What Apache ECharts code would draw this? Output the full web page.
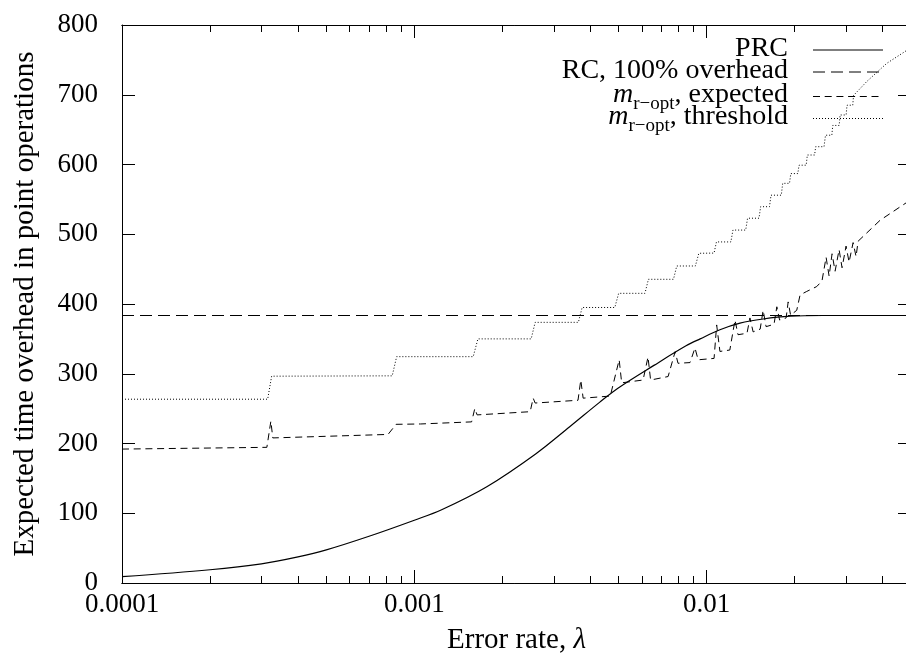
<!DOCTYPE html>
<html><head><meta charset="utf-8">
<script src="https://cdn.jsdelivr.net/npm/echarts@6/dist/echarts.min.js"></script>
<style>html,body{margin:0;padding:0;background:#fff;overflow:hidden}#c{width:906px;height:656px}</style>
</head><body><div id="c"></div>
<script>
// ---- axis definitions ----
const xMin = 0.0001, xMax = 0.05;
const xTickValues = [0.0001, 0.001, 0.01];
const xTickLabels = ['0.0001', '0.001', '0.01'];
const xMinorTickValues = [0.0002,0.0003,0.0004,0.0005,0.0006,0.0007,0.0008,0.0009,
  0.002,0.003,0.004,0.005,0.006,0.007,0.008,0.009,0.02,0.03,0.04];
const yMin = 0, yMax = 800, yInterval = 100;
const xTitle = 'Error rate, {i|λ}';
const yTitle = 'Expected time overhead in point operations';

// ---- series data (λ, value) ----
const prcLambda = [0.0001,0.0002,0.0003,0.0004,0.0005,0.0007,0.001,0.00124,0.00177,0.0026,0.0034,0.0043,0.005,0.0066,0.0085,0.0095,0.0111,0.013,0.0156,0.0193,0.025,0.05];
const prcValues = [9,19,27.5,37.5,47.5,67,90,105,138,185,224,259,280,312,340,350,363,372.5,378.5,382.5,383.5,383.5];

const rcLambda = [0.0001, 0.05];
const rcValues = [383.5, 383.5];

const expLambda = [0.0001,0.000313,0.000323,0.000328,0.000813,0.000866,0.00105,0.00157,0.00161,0.00164,
  0.00249,0.00255,0.00259,0.00363,0.00371,0.00378,0.00468,0.00502,0.00512,0.00606,
  0.0063,0.00643,0.00738,0.0078,0.00798,0.00877,0.00912,0.00935,0.0106,0.01082,
  0.0111,0.0120,0.0125,0.0128,0.01374,0.01406,0.01442,0.01524,0.0156,0.01597,
  0.0170,0.01738,0.01776,0.0187,0.0190,0.01937,0.02033,0.02087,0.02199,0.02379,
  0.0248,0.02562,0.02623,0.02685,0.0275,0.02838,0.02905,0.02998,0.0307,0.03169,
  0.03244,0.03296,0.03348,0.03918,0.04811,0.05];
const expValues = [192,194.5,232,208,213,227.5,228,231,250,241,
  245.6,265,258,262,291,265,268,320,287,291,
  324,291,296,331.6,315,316,337,320,322,370,
  332,334,377,356,358,380,360,364,391,367.5,
  371,396,377,380,403,384,391,413,418,425,
  433,467,440,472,447,478,452,483,460,488,
  468,490,489,520,545,551];

const thrLambda = [0.0001,0.000315,0.000325,0.00084,0.00087,0.00159,0.00165,0.00251,0.00259,0.00364,
  0.00375,0.00485,0.005,0.00615,0.00632,0.0077,0.0079,0.00915,0.0094,0.0106,
  0.0108,0.0121,0.0123,0.0136,0.0138,0.0151,0.0153,0.0164,0.0166,0.018,
  0.0182,0.0192,0.0194,0.0205,0.0207,0.0219,0.0221,0.0234,0.0236,0.0252,
  0.0255,0.0268,0.027,0.0284,0.0286,0.03,0.0302,0.0316,0.0318,0.0353,
  0.0413,0.0481,0.05];
const thrValues = [263.5,263.5,296.5,297,324.5,324.5,350,350,373.7,373.7,
  395,395,415.3,415.3,435.4,435.4,454.5,454.5,472.7,473,
  489,489,506,506,523,523,539.5,539.5,556,556,
  573,573,587,587,599,599,613.6,613.6,625.5,625.5,
  642,642,656,656,671,671,685,685,699,719,
  745,763,770];

const seriesNames = ['PRC', 'RC, 100% overhead', 'm_{r−opt}, expected', 'm_{r−opt}, threshold'];
const legendRich = ['PRC', 'RC, 100% overhead', '{mi|m}{sub|r−opt}{n|, expected}', '{mi|m}{sub|r−opt}{n|, threshold}'];

// ---- build ----
const L = Math.log10;
const FONT = 'Liberation Serif';
const FS_TICK = 27, FS_TITLE = 29, FS_LEG = 28;
const pairs = (xs, ys) => xs.map((x, i) => [L(x), ys[i]]);

function xAxis(pos, major, showLabel) {
  return {
    type: 'value', position: pos, min: L(xMin), max: L(xMax),
    axisLine: { show: true, onZero: false, lineStyle: { color: '#000', width: 1 } },
    splitLine: { show: false },
    axisTick: { show: true, inside: true, length: major ? 13 : 7,
      lineStyle: { color: '#000', width: 1 },
      customValues: (major ? xTickValues : xMinorTickValues).map(L) },
    axisLabel: { show: showLabel, customValues: xTickValues.map(L), margin: 8,
      color: '#000', fontFamily: FONT, fontSize: FS_TICK,
      formatter: v => { const i = xTickValues.findIndex(t => Math.abs(L(t) - v) < 1e-6); return i >= 0 ? xTickLabels[i] : ''; } },
    name: showLabel ? xTitle : '', nameLocation: 'middle', nameGap: 43,
    nameTextStyle: { color: '#000', fontFamily: FONT, fontSize: FS_TITLE,
      rich: { i: { fontFamily: FONT, fontSize: FS_TITLE, fontStyle: 'italic', color: '#000' } } }
  };
}
function yAxis(pos, showLabel) {
  return {
    type: 'value', position: pos, min: yMin, max: yMax, interval: yInterval,
    axisLine: { show: true, onZero: false, lineStyle: { color: '#000', width: 1 } },
    splitLine: { show: false },
    axisTick: { show: true, inside: true, length: 13, lineStyle: { color: '#000', width: 1 } },
    axisLabel: { show: showLabel, margin: 24, color: '#000', fontFamily: FONT, fontSize: FS_TICK },
    name: showLabel ? yTitle : '', nameLocation: 'middle', nameRotate: 90, nameGap: 82,
    nameTextStyle: { color: '#000', fontFamily: FONT, fontSize: FS_TITLE }
  };
}

const styles = [
  { width: 1.2, type: 'solid' },
  { width: 1, type: [12, 6] },
  { width: 1, type: [7, 4.7] },
  { width: 1, type: [1, 2] }
];
const datasets = [pairs(prcLambda, prcValues), pairs(rcLambda, rcValues), pairs(expLambda, expValues), pairs(thrLambda, thrValues)];

const series = datasets.map((d, i) => ({
  name: seriesNames[i], type: 'line', data: d, xAxisIndex: 0, yAxisIndex: 0,
  showSymbol: false, symbol: 'none', animation: false,
  smooth: i === 0 ? 0.35 : false,
  lineStyle: { color: '#000', width: styles[i].width, type: styles[i].type }
}));

// legend drawn as graphic (text right-aligned, sample to the right)
const legendY = [50, 72, 96.5, 118.5];
const graphic = [];
legendRich.forEach((t, i) => {
  graphic.push({
    type: 'text', x: 788, y: legendY[i] - 1.5, silent: true,
    style: { text: t, textAlign: 'right', textVerticalAlign: 'middle',
      fontFamily: FONT, fontSize: FS_LEG, fill: '#000', lineHeight: 30,
      rich: {
        mi: { fontFamily: FONT, fontSize: FS_LEG, fontStyle: 'italic', lineHeight: 30, verticalAlign: 'middle' },
        sub: { fontFamily: FONT, fontSize: 19, height: 11, verticalAlign: 'bottom' },
        n: { fontFamily: FONT, fontSize: FS_LEG, lineHeight: 30, verticalAlign: 'middle' }
      } }
  });
  graphic.push({
    type: 'line', silent: true,
    shape: { x1: 813, y1: legendY[i], x2: 883, y2: legendY[i] },
    style: { stroke: '#000', lineWidth: styles[i].width, lineDash: styles[i].type === 'solid' ? null : styles[i].type }
  });
});

const chart = echarts.init(document.getElementById('c'), null, { renderer: 'canvas' });
chart.setOption({
  animation: false,
  backgroundColor: '#fff',
  grid: { left: 122, top: 25, width: 789, height: 558, containLabel: false, outerBoundsMode: 'none' },
  xAxis: [xAxis('bottom', true, true), xAxis('bottom', false, false), xAxis('top', true, false), xAxis('top', false, false)],
  yAxis: [yAxis('left', true), yAxis('right', false)],
  series: series,
  graphic: graphic
});
</script></body></html>
